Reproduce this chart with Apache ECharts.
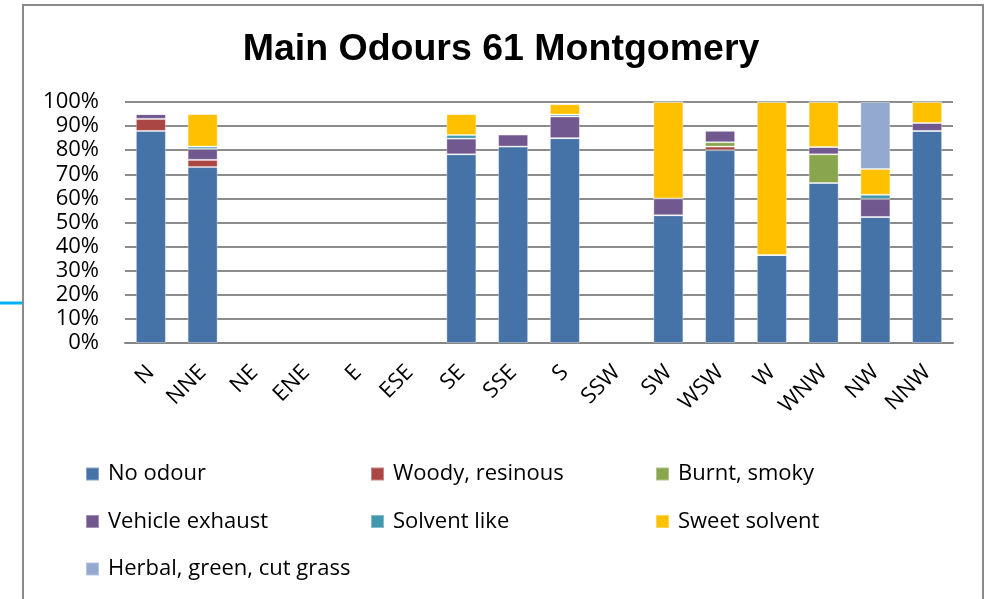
<!DOCTYPE html>
<html>
<head>
<meta charset="utf-8">
<script src="https://cdn.jsdelivr.net/npm/echarts@6/dist/echarts.min.js"></script>
<style>
html,body{margin:0;padding:0;background:#fff;}
#chart{width:1002px;height:599px;}
</style>
</head>
<body>
<div id="chart"></div>
<script>
const categories = ['N','NNE','NE','ENE','E','ESE','SE','SSE','S','SSW','SW','WSW','W','WNW','NW','NNW'];
const yTicks = [0,10,20,30,40,50,60,70,80,90,100];

const noOdour       = [88, 73, null, null, null, null, 78.3, 81.5, 85, null, 53, 80, 36.5, 66.4, 52.3, 88];
const woodyResinous = [5, 3, null, null, null, null, 0, 0, 0, null, 0, 1.5, 0, 0, 0, 0];
const burntSmoky    = [0, 0, null, null, null, null, 0, 0, 0, null, 0, 1.8, 0, 11.9, 0, 0];
const vehicleExhaust= [2, 4.5, null, null, null, null, 6.5, 5, 9, null, 7, 4.8, 0, 3, 7.5, 3.3];
const solventLike   = [0, 1, null, null, null, null, 1.5, 0, 0.8, null, 0, 0, 0, 0, 1.7, 0];
const sweetSolvent  = [0, 13.5, null, null, null, null, 8.7, 0, 4.3, null, 40, 0, 63.5, 18.7, 10.7, 8.7];
const herbalGrass   = [0, 0, null, null, null, null, 0, 0, 0, null, 0, 0, 0, 0, 27.8, 0];

const seriesDefs = [
  ['No odour', noOdour, '#4572A7'],
  ['Woody, resinous', woodyResinous, '#AA4643'],
  ['Burnt, smoky', burntSmoky, '#89A54E'],
  ['Vehicle exhaust', vehicleExhaust, '#71588F'],
  ['Solvent like', solventLike, '#4198AF'],
  ['Sweet solvent', sweetSolvent, '#FFC000'],
  ['Herbal, green, cut grass', herbalGrass, '#93A9CF']
];

const FONT = '"Open Sans", "DejaVu Sans", sans-serif';

const chart = echarts.init(document.getElementById('chart'), null, {renderer:'canvas'});

function legendCol(names, left){
  return {
    orient: 'vertical',
    left: left,
    top: 462,
    padding: 0,
    icon: 'rect',
    itemWidth: 13,
    itemHeight: 13,
    itemGap: 23.5,
    selectedMode: false,
    data: names,
    textStyle: {fontFamily: FONT, fontSize: 22, color: '#000', lineHeight: 24, padding: [0,0,0,4]}
  };
}

const option = {
  backgroundColor: '#fff',
  animation: false,
  title: {
    text: 'Main Odours 61 Montgomery',
    left: 'center',
    top: 26,
    textStyle: {fontFamily: '"Liberation Sans", Arial, sans-serif', fontWeight: 'bold', fontSize: 37.5, color: '#000'}
  },
  legend: [
    legendCol(['No odour','Vehicle exhaust','Herbal, green, cut grass'], 85),
    legendCol(['Woody, resinous','Solvent like'], 370),
    legendCol(['Burnt, smoky','Sweet solvent'], 655)
  ],
  grid: {left: 125, right: 49, top: 102, bottom: 256, containLabel: false},
  xAxis: {
    type: 'category',
    data: categories,
    axisLine: {show: true, lineStyle: {color: '#868686', width: 2}},
    axisTick: {show: false},
    axisLabel: {rotate: 45, margin: 26, interval: 0, fontFamily: FONT, fontSize: 22, color: '#000'}
  },
  yAxis: {
    type: 'value',
    min: 0, max: 100, interval: 10,
    axisLine: {show: false},
    axisTick: {show: false},
    splitLine: {show: true, lineStyle: {color: '#8c8c8c', width: 2}},
    axisLabel: {
      margin: 26, fontFamily: FONT, fontSize: 22, color: '#000',
      formatter: function(v){ return yTicks.indexOf(v) >= 0 ? v + '%' : ''; }
    }
  },
  graphic: [
    {type: 'rect', shape: {x: 23, y: 5, width: 960, height: 620}, style: {fill: 'none', stroke: '#8a8a8a', lineWidth: 2}, z: 100},
    {type: 'line', shape: {x1: 0, y1: 303, x2: 22, y2: 303}, style: {stroke: '#00B0F0', lineWidth: 3}, z: 100}
  ],
  series: seriesDefs.map(function(d){
    return {
      name: d[0],
      type: 'bar',
      stack: 'total',
      data: d[1],
      barWidth: '58%',
      itemStyle: {color: d[2], borderColor: 'rgba(255,255,255,0.35)', borderWidth: 1},
      emphasis: {disabled: true}
    };
  })
};
chart.setOption(option);
</script>
</body>
</html>
